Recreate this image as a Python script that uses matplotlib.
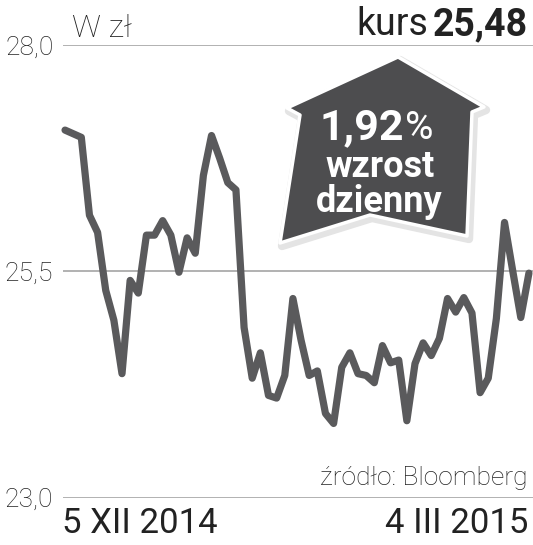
import matplotlib.pyplot as plt
from matplotlib.patches import Polygon

# kurs (zł), od 5 XII 2014 do 4 III 2015
kurs = [27.06, 27.02, 26.98, 26.12, 25.93, 25.29, 24.96, 24.37, 25.40, 25.26,
        25.90, 25.90, 26.06, 25.90, 25.49, 25.87, 25.70, 26.56, 27.00, 26.75,
        26.48, 26.40, 24.88, 24.32, 24.60, 24.13, 24.10, 24.35, 25.20, 24.74,
        24.35, 24.40, 23.93, 23.82, 24.44, 24.60, 24.37, 24.35, 24.27, 24.68,
        24.49, 24.52, 23.85, 24.48, 24.71, 24.57, 24.76, 25.20, 25.05, 25.21,
        25.04, 24.16, 24.32, 24.98, 26.04, 25.51, 24.99, 25.48]
y_ticks = [23.0, 25.5, 28.0]
y_labels = ['23,0', '25,5', '28,0']
daty = ['5 XII 2014', '4 III 2015']

W, H = 533, 545
line_col = '#5a5a5c'
badge_col = '#4d4d4f'
txt_col = '#222222'

plt.rcParams['font.family'] = ['Roboto', 'DejaVu Sans']
fig = plt.figure(figsize=(W / 100, H / 100), dpi=100)

# wykres
ax = fig.add_axes([63 / W, (H - 497.7) / H, (W - 63) / W, (497.7 - 45) / H])
ax.plot(range(len(kurs)), kurs, color=line_col, lw=5.2,
        solid_joinstyle='round', solid_capstyle='round', clip_on=False, zorder=3)
ax.set_xlim(-0.25, len(kurs) - 0.5)
ax.set_ylim(23, 28)
ax.set_yticks(y_ticks)
ax.set_yticklabels(y_labels, fontsize=19, fontweight='light', color=txt_col)
ax.tick_params(axis='y', length=0, pad=7)
ax.set_xticks([])
for s in ax.spines.values():
    s.set_visible(False)
ax.yaxis.grid(True, color='#ababab', lw=1.3)
ax.set_axisbelow(True)

# napisy i plakietka w pikselach
ov = fig.add_axes([0, 0, 1, 1], zorder=5)
ov.set_xlim(0, W)
ov.set_ylim(H, 0)
ov.axis('off')

ov.text(72, 37, 'W zł', fontsize=23, fontweight='light', color=txt_col,
        ha='left', va='baseline')
ov.text(428, 35, 'kurs', fontsize=27, color=txt_col, ha='right', va='baseline')
ov.text(528, 35, '25,48', fontsize=27, fontweight='bold', color=txt_col,
        ha='right', va='baseline')

pts = [(398, 57), (484, 107), (472, 112), (467, 236), (370, 215),
       (280, 243), (300, 115), (287, 108)]
shadow = Polygon([(x + 2, y + 3) for x, y in pts], closed=True,
                 fc='#cfcfcf', ec='#e4e4e4', lw=6, joinstyle='round')
ov.add_patch(shadow)
ov.add_patch(Polygon(pts, closed=True, fc=badge_col, ec='white', lw=2.5,
                     joinstyle='round'))
ov.text(404, 139, '1,92', fontsize=31, fontweight='bold', color='white',
        ha='right', va='baseline')
ov.text(405, 139, '%', fontsize=28, color='white', ha='left', va='baseline')
ov.text(380, 177, 'wzrost', fontsize=26, fontweight='bold', color='white',
        ha='center', va='baseline')
ov.text(379, 212, 'dzienny', fontsize=26, fontweight='bold', color='white',
        ha='center', va='baseline')

ov.text(527, 485, 'źródło: Bloomberg', fontsize=19, fontweight='light',
        color=txt_col, ha='right', va='baseline')
ov.text(62, 533, daty[0], fontsize=25, color=txt_col,
        ha='left', va='baseline')
ov.text(528, 533, daty[1], fontsize=25, color=txt_col,
        ha='right', va='baseline')

fig.savefig('out.png', dpi=100, facecolor='white')
